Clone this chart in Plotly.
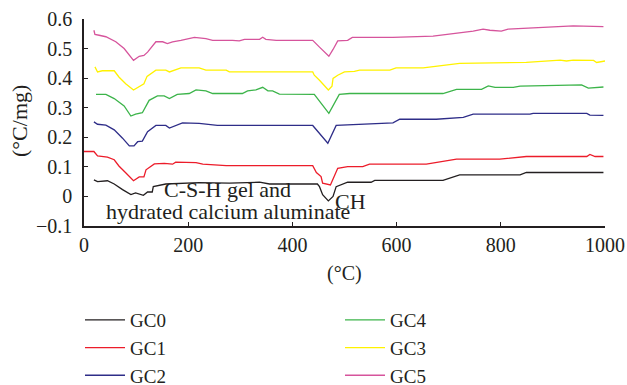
import plotly.graph_objects as go

# ---- data (temperature in °C, DTA signal in °C/mg) ----
gc0_t = [19, 26, 45, 58, 74, 90, 99, 106, 114, 122, 131, 133, 151, 157, 221, 279, 337, 356, 448, 452, 458, 469, 478, 484, 506, 551, 558, 689, 721, 837, 849, 997]
gc0_v = [0.056, 0.050, 0.053, 0.042, 0.023, 0.006, 0.012, 0.008, 0.004, 0.015, 0.015, 0.033, 0.039, 0.042, 0.047, 0.045, 0.048, 0.042, 0.042, 0.033, 0.006, -0.015, 0.000, 0.033, 0.048, 0.048, 0.054, 0.054, 0.073, 0.073, 0.081, 0.081]

gc1_t = [0, 19, 26, 45, 58, 67, 80, 95, 106, 115, 119, 135, 154, 170, 176, 215, 228, 273, 439, 446, 455, 458, 473, 487, 506, 535, 548, 657, 715, 798, 849, 965, 971, 981, 997]
gc1_v = [0.152, 0.152, 0.137, 0.133, 0.124, 0.103, 0.080, 0.053, 0.066, 0.066, 0.090, 0.110, 0.112, 0.109, 0.116, 0.114, 0.109, 0.104, 0.104, 0.081, 0.067, 0.045, 0.039, 0.095, 0.101, 0.101, 0.109, 0.109, 0.126, 0.126, 0.135, 0.135, 0.142, 0.135, 0.135]

gc2_t = [19, 26, 42, 58, 74, 87, 96, 103, 112, 122, 138, 157, 164, 176, 189, 221, 256, 439, 468, 484, 593, 606, 676, 728, 747, 856, 862, 965, 971, 997]
gc2_v = [0.252, 0.244, 0.241, 0.225, 0.197, 0.171, 0.171, 0.185, 0.187, 0.219, 0.240, 0.240, 0.231, 0.239, 0.249, 0.247, 0.240, 0.240, 0.180, 0.240, 0.249, 0.261, 0.261, 0.267, 0.278, 0.278, 0.281, 0.281, 0.275, 0.274]

gc4_t = [23, 42, 58, 77, 90, 99, 112, 125, 141, 154, 164, 179, 202, 215, 234, 247, 304, 314, 330, 343, 353, 362, 375, 439, 442, 470, 490, 510, 689, 715, 763, 776, 789, 824, 837, 955, 968, 997]
gc4_v = [0.345, 0.345, 0.331, 0.306, 0.272, 0.278, 0.283, 0.325, 0.340, 0.340, 0.331, 0.345, 0.348, 0.360, 0.357, 0.348, 0.348, 0.357, 0.360, 0.369, 0.357, 0.357, 0.346, 0.346, 0.345, 0.281, 0.345, 0.348, 0.348, 0.362, 0.362, 0.374, 0.369, 0.369, 0.373, 0.377, 0.366, 0.370]

gc3_t = [21, 26, 35, 58, 67, 80, 95, 106, 115, 121, 138, 157, 164, 186, 221, 234, 273, 279, 439, 442, 452, 469, 476, 478, 487, 500, 519, 529, 587, 599, 651, 721, 849, 914, 926, 939, 978, 984, 1000]
gc3_v = [0.438, 0.421, 0.425, 0.425, 0.404, 0.381, 0.360, 0.370, 0.381, 0.406, 0.427, 0.427, 0.421, 0.435, 0.435, 0.427, 0.427, 0.421, 0.421, 0.410, 0.393, 0.360, 0.373, 0.399, 0.410, 0.421, 0.423, 0.427, 0.427, 0.435, 0.435, 0.450, 0.453, 0.461, 0.458, 0.461, 0.460, 0.453, 0.458]

gc5_t = [19, 21, 29, 42, 61, 77, 95, 106, 115, 122, 138, 151, 160, 170, 186, 212, 234, 247, 285, 298, 308, 337, 343, 349, 369, 439, 452, 462, 470, 478, 487, 506, 515, 593, 670, 747, 766, 779, 801, 814, 862, 939, 997]
gc5_v = [0.562, 0.548, 0.545, 0.540, 0.523, 0.500, 0.460, 0.474, 0.477, 0.488, 0.523, 0.523, 0.517, 0.523, 0.528, 0.538, 0.534, 0.528, 0.528, 0.526, 0.531, 0.531, 0.538, 0.531, 0.528, 0.528, 0.505, 0.488, 0.474, 0.497, 0.526, 0.528, 0.538, 0.538, 0.542, 0.559, 0.566, 0.562, 0.559, 0.566, 0.570, 0.577, 0.574]

x_ticks = [0, 200, 400, 600, 800, 1000]
y_ticks = [-0.1, 0, 0.1, 0.2, 0.3, 0.4, 0.5, 0.6]

FONT = "Liberation Serif"
TXT = "#231f20"

series = [
    ("GC0", gc0_t, gc0_v, "#231f20", "legend"),
    ("GC1", gc1_t, gc1_v, "#ec1c2a", "legend"),
    ("GC2", gc2_t, gc2_v, "#2e2d88", "legend"),
    ("GC4", gc4_t, gc4_v, "#3cb44a", "legend2"),
    ("GC3", gc3_t, gc3_v, "#fff200", "legend2"),
    ("GC5", gc5_t, gc5_v, "#d6549c", "legend2"),
]

fig = go.Figure()
for name, t, v, col, lg in series:
    fig.add_trace(go.Scatter(x=t, y=v, mode="lines", name=name,
                             line=dict(color=col, width=1.3), legend=lg))

W, H = 627, 385
L, R, T, B = 84, 22, 19, 159
PW, PH = W - L - R, H - T - B


def px(xp):
    return (xp - L) / PW


def py(yp):
    return (H - B - yp) / PH


legend_common = dict(font=dict(family=FONT, size=19, color=TXT), bgcolor="rgba(0,0,0,0)",
                     itemwidth=40, xref="container", yref="container",
                     xanchor="left", yanchor="top", tracegroupgap=0)

fig.update_layout(
    width=W, height=H,
    margin=dict(l=L, r=R, t=T, b=B, autoexpand=False),
    paper_bgcolor="white", plot_bgcolor="white",
    font=dict(family=FONT, size=20, color=TXT),
    legend=dict(x=80 / W, y=1 - 301 / H, **legend_common),
    legend2=dict(x=340 / W, y=1 - 301 / H, **legend_common),
    xaxis=dict(range=[0, 1000], tickvals=x_ticks, ticks="inside", ticklen=4,
               tickcolor=TXT, showline=True, linecolor=TXT, linewidth=1.5,
               showgrid=False, zeroline=False, ticklabelstandoff=0, tickangle=0,
               tickfont=dict(family=FONT, size=20, color=TXT)),
    yaxis=dict(range=[-0.1, 0.6], tickvals=y_ticks, ticks="inside", ticklen=4,
               tickcolor=TXT, showline=True, linecolor=TXT, linewidth=1.5,
               showgrid=False, zeroline=False, ticklabelstandoff=6,
               tickfont=dict(family=FONT, size=20, color=TXT)),
    annotations=[
        dict(text="(°C)", xref="paper", yref="paper", x=px(344), y=py(273),
             xanchor="center", yanchor="middle",
             showarrow=False, font=dict(family=FONT, size=20, color=TXT)),
        dict(text="(°C/mg)", xref="paper", yref="paper", x=px(19), y=py(121),
             xanchor="center", yanchor="middle",
             textangle=-90, showarrow=False, font=dict(family=FONT, size=22, color=TXT)),
        dict(text="C-S-H gel and", xref="x", yref="y", x=276, y=0.022,
             showarrow=False, font=dict(family=FONT, size=22, color=TXT)),
        dict(text="hydrated calcium aluminate", xref="x", yref="y", x=276, y=-0.050,
             showarrow=False, font=dict(family=FONT, size=22, color=TXT)),
        dict(text="CH", xref="x", yref="y", x=511, y=-0.016,
             showarrow=False, font=dict(family=FONT, size=22, color=TXT)),
    ],
)

fig.write_html("out.html", config={"displayModeBar": False},
               post_script="document.body.style.margin='0';")
